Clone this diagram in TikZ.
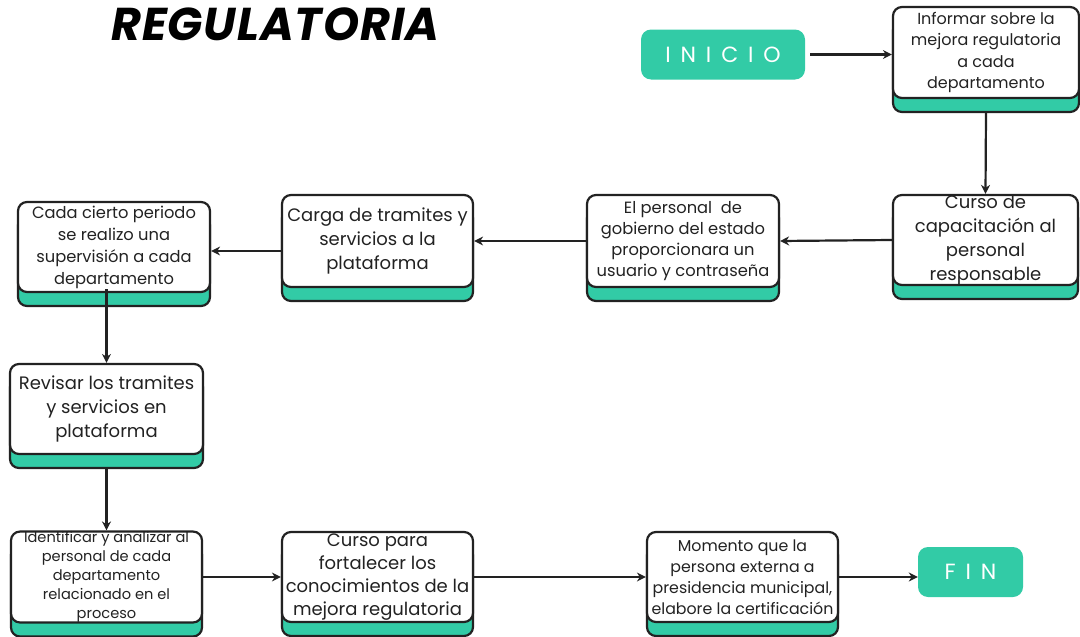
\documentclass[tikz,border=0pt]{standalone}
\usepackage{fontspec}
\setmainfont{Poppins}
\usetikzlibrary{arrows.meta,shadows}
\definecolor{cardgreen}{HTML}{32CBA6}
\definecolor{ink}{HTML}{222222}
\tikzset{
  card/.style={draw=ink, line width=2.2pt, rounded corners=9pt, fill=white,
    inner sep=0pt, align=center, text=ink,
    general shadow={draw=ink, line width=2.2pt, fill=cardgreen, shadow yshift=-14pt, shadow xshift=0pt}},
  term/.style={fill=cardgreen, rounded corners=10pt, inner sep=0pt, text=white},
  conn/.style={draw=ink, line width=2.2pt, -{Stealth[length=9pt,width=9pt]}},
}
\newcommand{\fsz}[2]{\fontsize{#1}{#2}\selectfont}
\begin{document}
\begin{tikzpicture}[x=1pt,y=-1pt]
\useasboundingbox (0,0) rectangle (1080,637);
% title
\node[anchor=base west, inner sep=0pt] (title) at (111,40)
  {\fsz{46}{52}\bfseries\itshape\addfontfeatures{LetterSpace=2}REGULATORIA};
% terminals
\node[term, minimum width=164pt, minimum height=50pt, font=\fsz{22}{26}\addfontfeatures{LetterSpace=45}] (ini) at (723,54.5) {INICIO};
\node[term, minimum width=105pt, minimum height=50pt, font=\fsz{22}{26}\addfontfeatures{LetterSpace=45}] (fin) at (970.5,572) {FIN};
% cards
\node[card, minimum width=186pt, minimum height=91pt, font=\fsz{16}{21.5}] (b1) at (986,52.5)
  {Informar sobre la\\mejora regulatoria\\a cada\\departamento};
\node[card, minimum width=185pt, minimum height=90pt, font=\fsz{18}{24}] (b2) at (985.5,240)
  {Curso de\\capacitación al\\personal\\responsable};
\node[card, minimum width=192pt, minimum height=92pt, font=\fsz{16.3}{21}] (b3) at (683,241)
  {El personal \ de\\gobierno del estado\\proporcionara un\\usuario y contraseña};
\node[card, minimum width=191pt, minimum height=92pt, font=\fsz{18}{24}] (b4) at (377.5,241)
  {Carga de tramites y\\servicios a la\\plataforma};
\node[card, minimum width=192pt, minimum height=90pt, font=\fsz{16.3}{22}] (b5) at (114,247)
  {Cada cierto periodo\\se realizo una\\supervisión a cada\\departamento};
\node[card, minimum width=193pt, minimum height=90pt, font=\fsz{18}{24}] (b6) at (106.5,409)
  {Revisar los tramites\\y servicios en\\plataforma};
\node[card, minimum width=191pt, minimum height=90pt, font=\fsz{14.6}{19}] (b7) at (106.5,577)
  {Identificar y analizar al\\personal de cada\\departamento\\relacionado en el\\proceso};
\node[card, minimum width=191pt, minimum height=90pt, font=\fsz{18}{23}] (b8) at (377.5,577)
  {Curso para\\fortalecer los\\conocimientos de la\\mejora regulatoria};
\node[card, minimum width=191pt, minimum height=90pt, font=\fsz{15.8}{21}] (b9) at (742.5,577)
  {Momento que la\\persona externa a\\presidencia municipal,\\elabore la certificación};
% connectors
\draw[conn] ([xshift=5pt]ini.east) -- (ini.east -| b1.west);
\draw[conn] ([yshift=-14pt]b1.south) -- (b2.north);
\draw[conn] (b2.west) -- (b3.east);
\draw[conn] (b3.west) -- (b4.east);
\draw[conn] ([yshift=-10pt]b4.west) -- ([yshift=-10pt]b4.west -| b5.east);
\draw[conn] ([yshift=4pt]b5.south -| b6.north) -- (b6.north);
\draw[conn] ([yshift=-14pt]b6.south) -- (b7.north);
\draw[conn] (b7.east) -- (b8.west);
\draw[conn] (b8.east) -- (b9.west);
\draw[conn] (b9.east) -- (b9.east -| fin.west);
\end{tikzpicture}
\end{document}
